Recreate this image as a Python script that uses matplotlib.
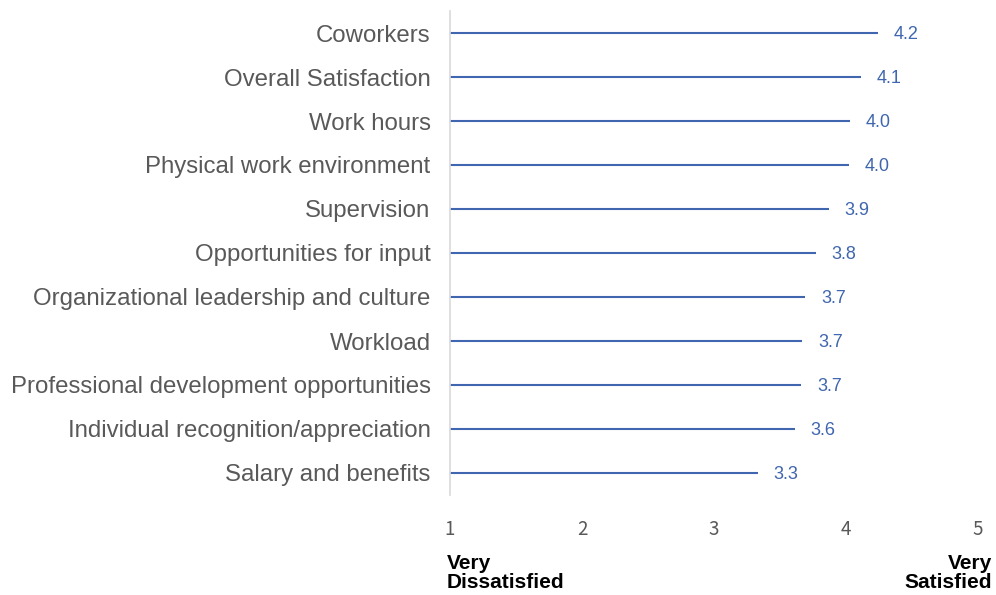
import matplotlib
matplotlib.use("Agg")
import matplotlib.pyplot as plt

# Survey results: average rating on a 1-5 scale
categories = [
    "Coworkers",
    "Overall Satisfaction",
    "Work hours",
    "Physical work environment",
    "Supervision",
    "Opportunities for input",
    "Organizational leadership and culture",
    "Workload",
    "Professional development opportunities",
    "Individual recognition/appreciation",
    "Salary and benefits",
]
scores = [4.24, 4.11, 4.03, 4.02, 3.87, 3.77, 3.69, 3.67, 3.66, 3.61, 3.33]
x_ticks = [1, 2, 3, 4, 5]

line_color = "#3F66AE"
grey = "#595959"

fig = plt.figure(figsize=(9.96, 5.95), dpi=100)
ax = fig.add_axes([450 / 996, 100 / 595, 528 / 996, 484 / 595])

y_pos = list(range(len(categories)))
ax.hlines(y_pos, 1, scores, color=line_color, linewidth=1.5)

for y, v in zip(y_pos, scores):
    ax.annotate(f"{v:.1f}", xy=(v, y), xytext=(11.5, -1), textcoords="offset points",
                ha="left", va="center", fontsize=13, color=line_color,
                family="Liberation Sans")

ax.set_xlim(1, 5)
ax.set_ylim(len(categories) - 0.5, -0.5)
ax.set_yticks(y_pos)
ax.set_yticklabels(categories, fontsize=17.3, color=grey, family="Liberation Sans")
ax.set_xticks(x_ticks)
ax.set_xticklabels([str(t) for t in x_ticks], fontsize=13.5, color=grey,
                   family="Noto Sans CJK SC")
ax.tick_params(axis="y", length=0, pad=14)
ax.tick_params(axis="x", length=0, pad=17)

for side in ["top", "right", "bottom"]:
    ax.spines[side].set_visible(False)
ax.spines["left"].set_color("#D9D9D9")
ax.spines["left"].set_linewidth(1.2)

fig.text(447 / 996, 1 - 573 / 595, "Very\nDissatisfied", ha="left", va="center",
         fontsize=15, fontweight="bold", family="Liberation Sans", linespacing=1.0)
fig.text(992 / 996, 1 - 573 / 595, "Very\nSatisfied", ha="right", va="center",
         fontsize=15, fontweight="bold", family="Liberation Sans", linespacing=1.0,
         multialignment="right")

fig.savefig("out.png", dpi=100)
